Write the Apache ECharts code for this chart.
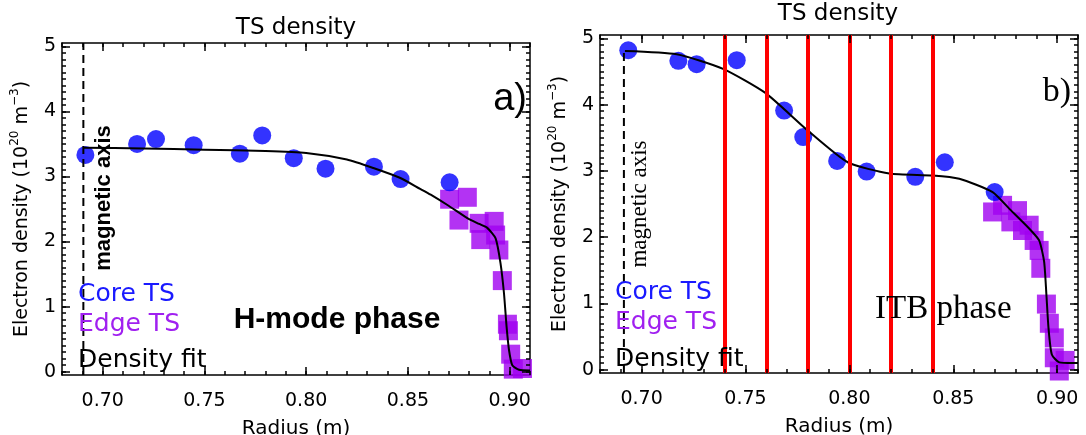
<!DOCTYPE html>
<html>
<head>
<meta charset="utf-8">
<script src="https://cdn.jsdelivr.net/npm/echarts@6/dist/echarts.min.js"></script>
<style>
  html, body { margin: 0; padding: 0; background: #fff; }
  #chart { width: 1086px; height: 435px; }
</style>
</head>
<body>
<div id="chart"></div>
<script>
// ---- shared axis ranges and tick marks ----
const xRange = [0.68, 0.91];
const yRange = [-0.05, 5.05];
const xMajorTicks = [0.70, 0.75, 0.80, 0.85, 0.90];
const yMajorTicks = [0, 1, 2, 3, 4, 5];
const xMinorTicks = [];
for (let i = 68; i <= 91; i++) xMinorTicks.push(i / 100);
const yMinorTicks = [];
for (let i = 0; i <= 50; i++) yMinorTicks.push(i / 10);

// ---- panel a) H-mode phase ----
const coreRadiusA  = [0.6915, 0.7169, 0.7262, 0.7447, 0.7674, 0.7784, 0.7939, 0.8095, 0.8333, 0.8464, 0.8705];
const coreDensityA = [3.33, 3.50, 3.575, 3.48, 3.35, 3.63, 3.28, 3.12, 3.15, 2.96, 2.91];
const edgeRadiusA  = [0.8705, 0.8792, 0.8751, 0.8850, 0.8924, 0.8858, 0.8931, 0.8947, 0.8964, 0.8989, 0.8994, 0.9005, 0.9018, 0.9063];
const edgeDensityA = [2.65, 2.68, 2.33, 2.28, 2.31, 2.03, 2.10, 1.87, 1.40, 0.73, 0.63, 0.27, 0.04, 0.05];
const fitRadiusA   = [0.6905, 0.72, 0.75, 0.78, 0.80, 0.82, 0.833, 0.846, 0.856, 0.8612, 0.87, 0.8792, 0.885, 0.889, 0.8931, 0.8955, 0.8972, 0.8985, 0.8997, 0.9013, 0.9046, 0.91];
const fitDensityA  = [3.44, 3.43, 3.41, 3.39, 3.36, 3.26, 3.13, 2.98, 2.81, 2.72, 2.55, 2.36, 2.27, 2.21, 2.05, 1.67, 1.21, 0.69, 0.33, 0.10, 0.03, 0.02];
const magAxisA = 0.6905;

// ---- panel b) ITB phase ----
const coreRadiusB  = [0.6936, 0.7177, 0.7265, 0.7458, 0.7686, 0.7778, 0.7941, 0.8083, 0.8317, 0.8459, 0.8699];
const coreDensityB = [4.82, 4.66, 4.61, 4.67, 3.91, 3.51, 3.15, 2.99, 2.91, 3.13, 2.68];
const edgeRadiusB  = [0.8689, 0.8737, 0.8809, 0.8777, 0.8833, 0.8865, 0.8889, 0.8913, 0.8921, 0.8948, 0.8962, 0.8986, 0.8986, 0.9010, 0.9038];
const edgeDensityB = [2.38, 2.48, 2.40, 2.23, 2.10, 2.18, 1.95, 1.80, 1.53, 0.99, 0.70, 0.48, 0.18, -0.02, 0.14];
const fitRadiusB   = [0.6920, 0.7169, 0.7392, 0.7594, 0.7792, 0.7992, 0.8192, 0.8401, 0.8529, 0.8689, 0.8769, 0.8865, 0.8913, 0.8937, 0.8948, 0.8958, 0.8974, 0.9010, 0.9074, 0.91];
const fitDensityB  = [4.81, 4.76, 4.54, 4.18, 3.63, 3.13, 2.96, 2.93, 2.88, 2.68, 2.43, 2.13, 1.95, 1.63, 1.13, 0.63, 0.23, 0.11, 0.10, 0.10];
const magAxisB = 0.6915;
const chordRadiusB = [0.74, 0.76, 0.78, 0.80, 0.82, 0.84];

const SANS = 'DejaVu Sans';
const ARIAL = 'Liberation Sans';
const TIMES = 'Liberation Serif';
const BLACK = '#000000';
const MAJOR_LEN = 8, MINOR_LEN = 4;

const gridA = { left: 62, top: 43, width: 468, height: 332 };
const gridB = { left: 600, top: 35, width: 478, height: 338 };

const pairs = (xs, ys) => xs.map((x, i) => [x, ys[i]]);

// Frame axes: bottom/left carry labels, top/right only close the box
function xAxesFor(g) {
  const base = {
    type: 'value', gridIndex: g, min: xRange[0], max: xRange[1],
    axisLine: { show: true, onZero: false, lineStyle: { color: BLACK, width: 1.5 } },
    axisTick: { show: false }, axisLabel: { show: false }, splitLine: { show: false }
  };
  return [
    Object.assign({}, base, {
      position: 'bottom',
      axisLabel: { show: true, customValues: xMajorTicks, formatter: v => v.toFixed(2), margin: 17,
                   fontSize: 19, color: BLACK, fontFamily: SANS },
      name: 'Radius (m)', nameLocation: 'middle', nameGap: 44,
      nameTextStyle: { fontSize: 20, color: BLACK, fontFamily: SANS }
    }),
    Object.assign({}, base, { position: 'top' })
  ];
}

function yAxesFor(g) {
  const base = {
    type: 'value', gridIndex: g, min: yRange[0], max: yRange[1],
    axisLine: { show: true, onZero: false, lineStyle: { color: BLACK, width: 1.5 } },
    axisTick: { show: false }, axisLabel: { show: false }, splitLine: { show: false }
  };
  return [
    Object.assign({}, base, {
      position: 'left',
      axisLabel: { show: true, customValues: yMajorTicks, formatter: v => String(Math.round(v)), margin: 6,
                   fontSize: 19, color: BLACK, fontFamily: SANS },
      name: '{t|Electron density (10}{s|20}{t| m}{s|−3}{t|)}',
      nameLocation: 'middle', nameRotate: 90, nameGap: 27,
      nameTextStyle: {
        color: BLACK, fontFamily: SANS,
        rich: {
          t: { fontSize: 19, lineHeight: 26, fontFamily: SANS, color: BLACK },
          s: { fontSize: 12, lineHeight: 14, verticalAlign: 'top', fontFamily: SANS, color: BLACK }
        }
      }
    }),
    Object.assign({}, base, { position: 'right' })
  ];
}

// Inward tick marks on all four sides, as short segments in data space
function tickSeries(ax, grid) {
  const dy = len => len / grid.height * (yRange[1] - yRange[0]);
  const dx = len => len / grid.width * (xRange[1] - xRange[0]);
  const segs = [];
  const addX = (vals, len) => vals.forEach(v => {
    segs.push([{ coord: [v, yRange[0]] }, { coord: [v, yRange[0] + dy(len)] }]);
    segs.push([{ coord: [v, yRange[1]] }, { coord: [v, yRange[1] - dy(len)] }]);
  });
  const addY = (vals, len) => vals.forEach(v => {
    segs.push([{ coord: [xRange[0], v] }, { coord: [xRange[0] + dx(len), v] }]);
    segs.push([{ coord: [xRange[1], v] }, { coord: [xRange[1] - dx(len), v] }]);
  });
  addX(xMinorTicks, MINOR_LEN); addX(xMajorTicks, MAJOR_LEN);
  addY(yMinorTicks, MINOR_LEN); addY(yMajorTicks, MAJOR_LEN);
  return {
    type: 'line', xAxisIndex: ax, yAxisIndex: ax, data: [], z: 7,
    markLine: {
      silent: true, symbol: ['none', 'none'], label: { show: false }, animation: false,
      lineStyle: { color: BLACK, width: 1.5, type: 'solid', opacity: 1 },
      data: segs
    }
  };
}

function panelSeries(ax, core, edge, fit, magLine) {
  return [
    { type: 'scatter', xAxisIndex: ax, yAxisIndex: ax, data: edge, symbol: 'rect', symbolSize: 19,
      itemStyle: { color: '#a000f0' }, z: 2 },
    { type: 'scatter', xAxisIndex: ax, yAxisIndex: ax, data: core, symbol: 'circle', symbolSize: 18,
      itemStyle: { color: '#0000ff' }, z: 3 },
    { type: 'line', xAxisIndex: ax, yAxisIndex: ax, data: fit, showSymbol: false, smooth: 0.2,
      lineStyle: { color: BLACK, width: 2 }, z: 4 },
    { type: 'line', xAxisIndex: ax, yAxisIndex: ax, data: magLine, showSymbol: false,
      lineStyle: { color: BLACK, width: 2, type: [8, 5] }, z: 4 }
  ];
}

const series = [].concat(
  panelSeries(0,
    pairs(coreRadiusA, coreDensityA), pairs(edgeRadiusA, edgeDensityA), pairs(fitRadiusA, fitDensityA),
    [[magAxisA, yRange[0]], [magAxisA, yRange[1]]]),
  panelSeries(2,
    pairs(coreRadiusB, coreDensityB), pairs(edgeRadiusB, edgeDensityB), pairs(fitRadiusB, fitDensityB),
    [[magAxisB, yRange[0]], [magAxisB, coreDensityB[0]]]),
  [{
    // vertical chords across the ITB panel
    type: 'line', xAxisIndex: 2, yAxisIndex: 2, data: [], z: 6,
    markLine: {
      silent: true, symbol: ['none', 'none'], label: { show: false }, animation: false,
      lineStyle: { color: '#ff0000', width: 4, type: 'solid' },
      data: chordRadiusB.map(r => ({ xAxis: r }))
    }
  }],
  [tickSeries(0, gridA), tickSeries(2, gridB)]
);

function txt(text, x, y, size, family, opts) {
  opts = opts || {};
  const el = {
    type: 'text', x: x, y: y, silent: true, z: 10,
    style: {
      text: text, fontSize: size, fontFamily: family, fontWeight: opts.weight || 'normal',
      fill: opts.fill || BLACK, textAlign: opts.align || 'left', textVerticalAlign: 'middle'
    }
  };
  if (opts.rotation) el.rotation = opts.rotation;
  return el;
}

const graphics = [
  txt('TS density', 296, 28, 23, SANS, { align: 'center' }),
  txt('TS density', 838, 14, 23, SANS, { align: 'center' }),
  txt('a)', 527, 100, 38, ARIAL, { align: 'right' }),
  txt('b)', 1071, 92, 34, TIMES, { align: 'right' }),
  txt('magnetic axis', 104, 198, 22, ARIAL, { align: 'center', weight: 'bold', rotation: Math.PI / 2 }),
  txt('magnetic axis', 640, 204, 23, TIMES, { align: 'center', rotation: Math.PI / 2 }),
  txt('Core TS', 78, 294, 25, SANS, { fill: '#1a1aff' }),
  txt('Edge TS', 78, 324, 25, SANS, { fill: '#a020f0' }),
  txt('Density fit', 78, 360, 25, SANS),
  txt('Core TS', 615, 292, 25, SANS, { fill: '#1a1aff' }),
  txt('Edge TS', 615, 322, 25, SANS, { fill: '#a020f0' }),
  txt('Density fit', 615, 359, 25, SANS),
  txt('H-mode phase', 337, 320, 30, ARIAL, { align: 'center', weight: 'bold' }),
  txt('ITB phase', 875, 309, 33, TIMES)
];

const chart = echarts.init(document.getElementById('chart'), null, { renderer: 'canvas' });
chart.setOption({
  animation: false,
  backgroundColor: '#fff',
  grid: [
    Object.assign({ containLabel: false, outerBoundsMode: 'none' }, gridA),
    Object.assign({ containLabel: false, outerBoundsMode: 'none' }, gridB)
  ],
  xAxis: xAxesFor(0).concat(xAxesFor(1)),
  yAxis: yAxesFor(0).concat(yAxesFor(1)),
  series: series,
  graphic: graphics
});
</script>
</body>
</html>
